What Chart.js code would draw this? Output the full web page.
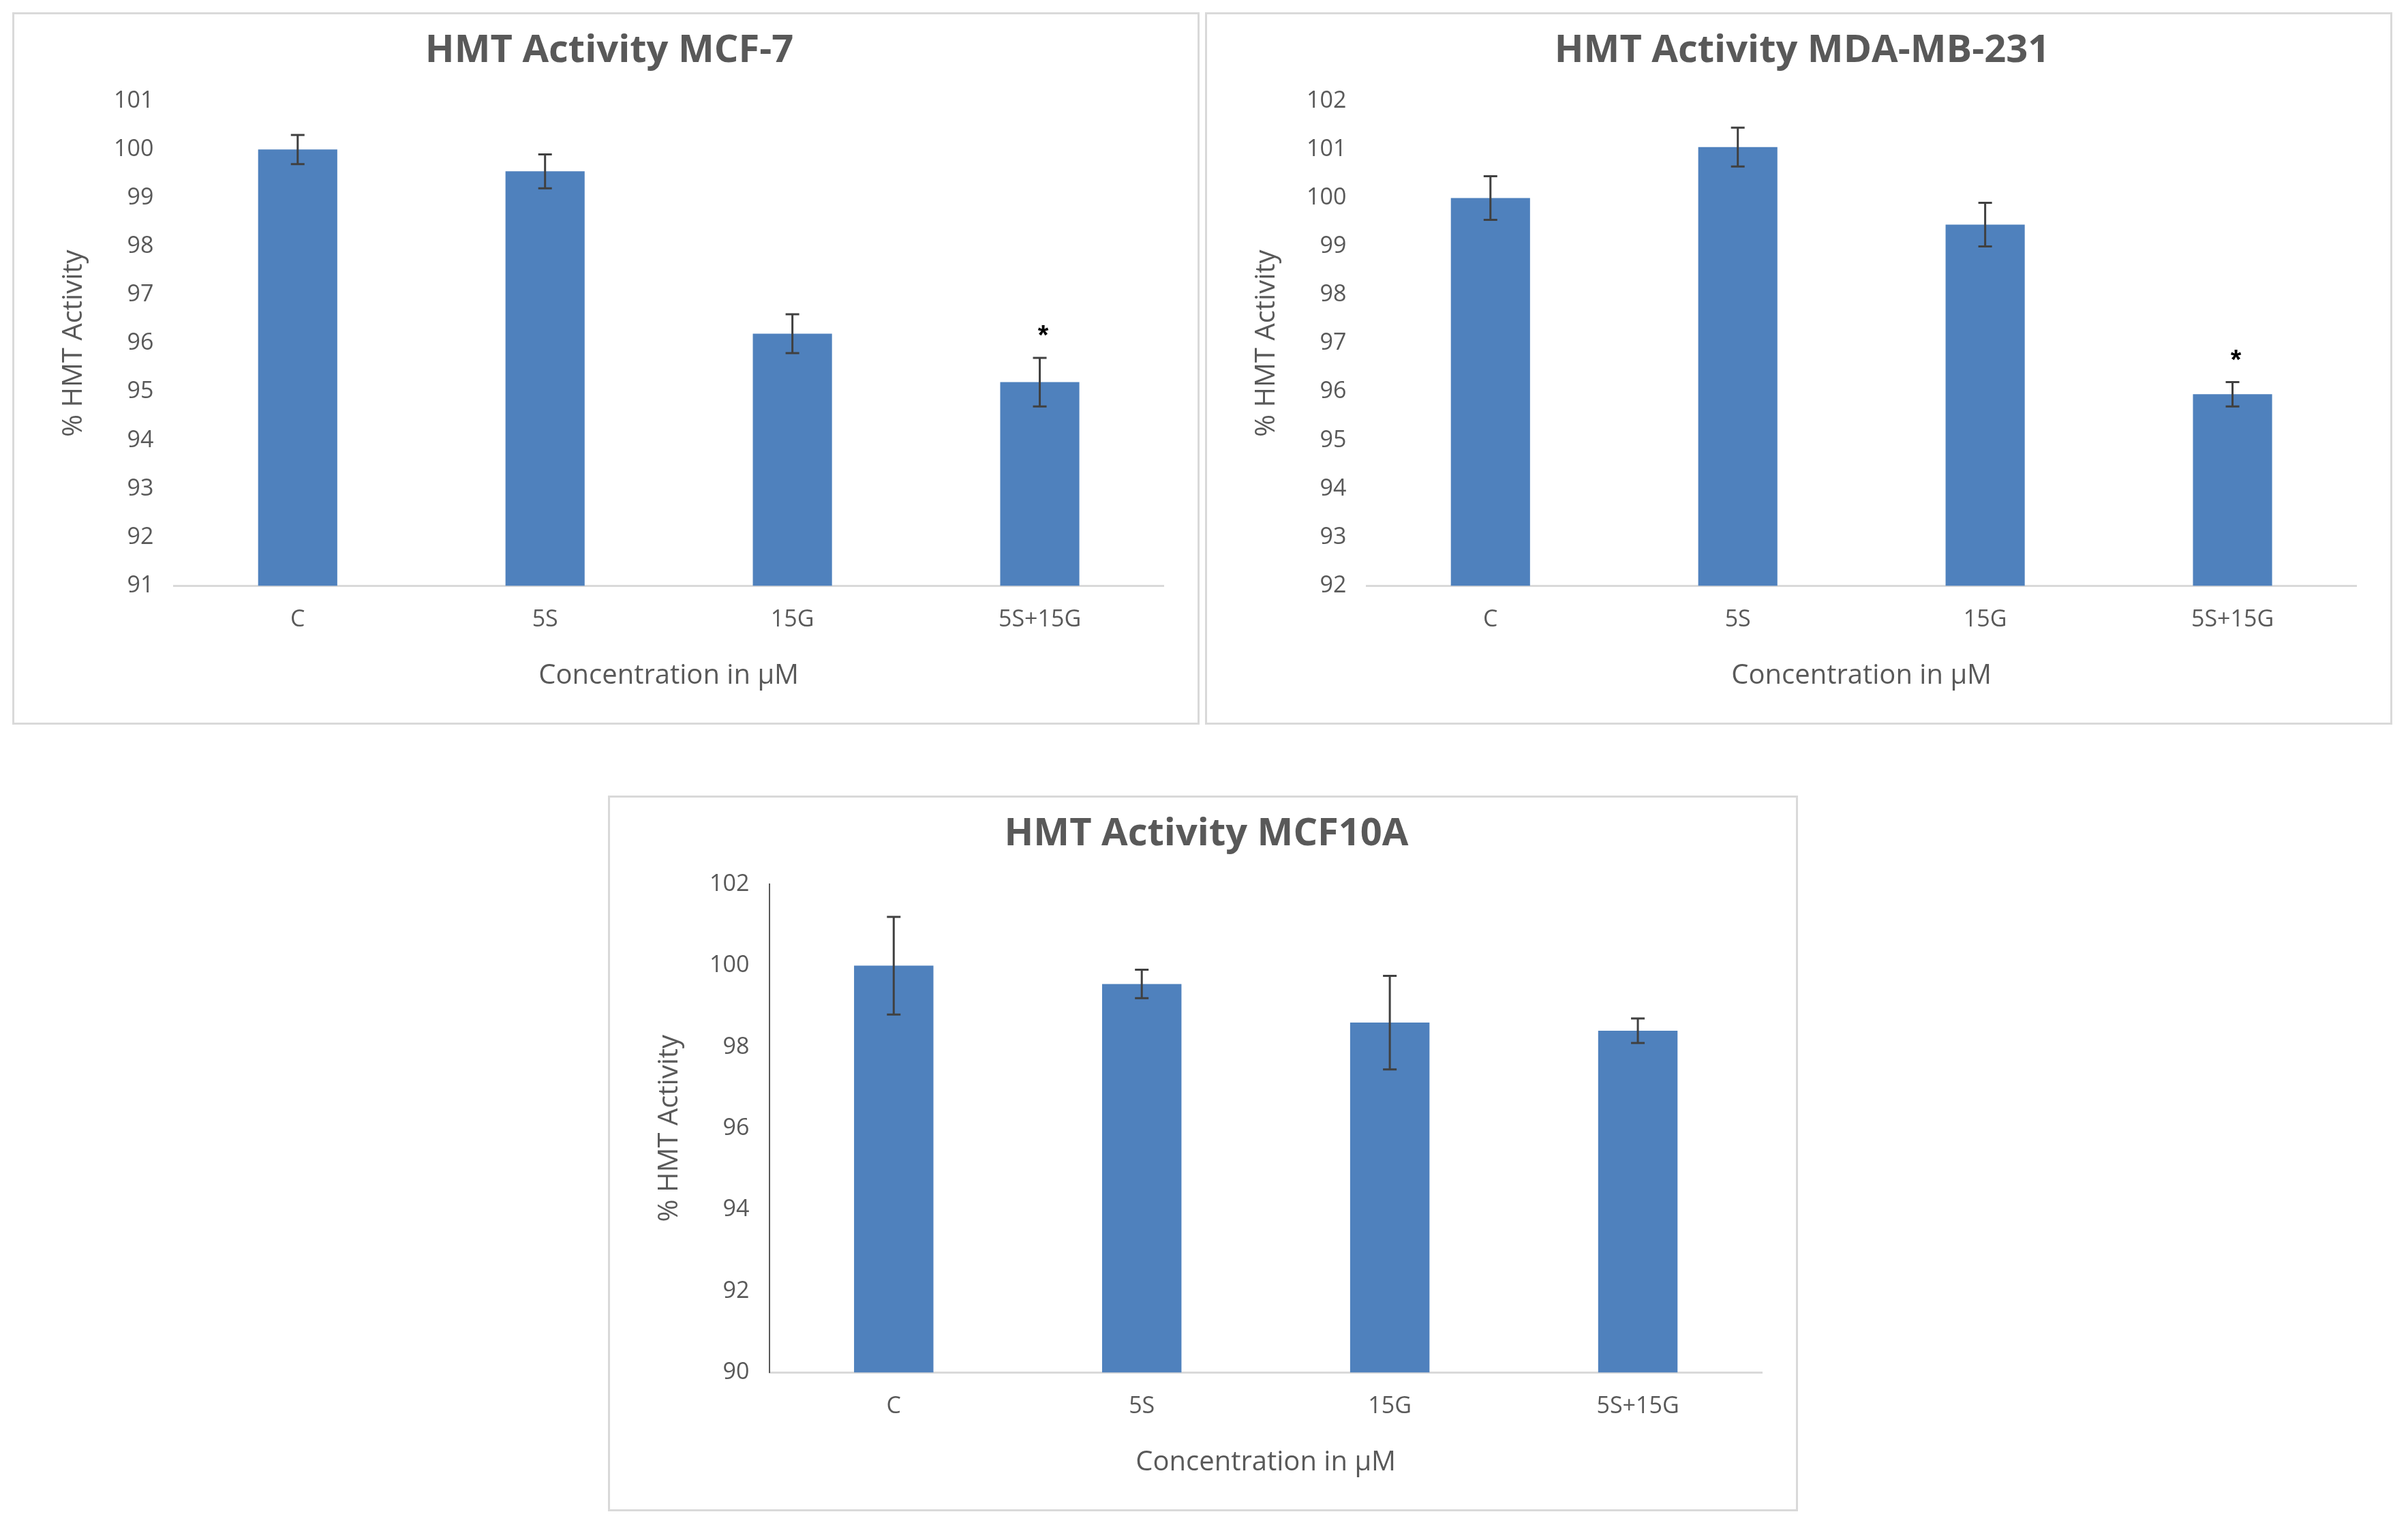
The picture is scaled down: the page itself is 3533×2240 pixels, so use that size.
<!DOCTYPE html>
<html>
<head>
<meta charset="utf-8">
<script src="https://cdn.jsdelivr.net/npm/chart.js@4"></script>
<style>
body { margin: 0; background: #fff; width: 3533px; height: 2240px; position: relative; }
.panel { position: absolute; border: 3px solid #d9d9d9; box-sizing: border-box; background: #fff; }
</style>
</head>
<body>
<div class="panel" style="left:18px;top:18px;width:1742px;height:1045px"><canvas id="c1"></canvas></div>
<div class="panel" style="left:1768px;top:18px;width:1742px;height:1045px"><canvas id="c2"></canvas></div>
<div class="panel" style="left:892px;top:1167px;width:1746px;height:1050px"><canvas id="c3"></canvas></div>
<script>
var categories = ['C', '5S', '15G', '5S+15G'];

var mcf7Values = [100, 99.55, 96.2, 95.2];
var mcf7Errors = [0.3, 0.35, 0.4, 0.5];
var mcf7Stars = ['', '', '', '*'];

var mdaValues = [100, 101.05, 99.45, 95.95];
var mdaErrors = [0.45, 0.4, 0.45, 0.25];
var mdaStars = ['', '', '', '*'];

var mcf10aValues = [100, 99.55, 98.6, 98.4];
var mcf10aErrors = [1.2, 0.35, 1.15, 0.3];
var mcf10aStars = ['', '', '', ''];

var errorBarPlugin = {
    id: 'errorBars',
    afterDatasetsDraw: function(chart, args, opts) {
        var ctx = chart.ctx;
        var meta = chart.getDatasetMeta(0);
        var y = chart.scales.y;
        ctx.save();
        ctx.strokeStyle = '#404040';
        ctx.lineWidth = 3;
        meta.data.forEach(function(bar, i) {
            var v = opts.values[i], e = opts.errors[i];
            var top = y.getPixelForValue(v + e), bot = y.getPixelForValue(v - e);
            ctx.beginPath();
            ctx.moveTo(bar.x, top); ctx.lineTo(bar.x, bot);
            ctx.moveTo(bar.x - 10, top); ctx.lineTo(bar.x + 10, top);
            ctx.moveTo(bar.x - 10, bot); ctx.lineTo(bar.x + 10, bot);
            ctx.stroke();
            if (opts.stars[i]) {
                ctx.fillStyle = '#000';
                ctx.font = 'bold 40px "Liberation Sans"';
                ctx.textAlign = 'center';
                ctx.fillText(opts.stars[i], bar.x + 5, top - 20);
            }
        });
        ctx.restore();
    }
};

function makeChart(id, title, values, errors, stars, min, max, step, yLine, pad) {
    new Chart(document.getElementById(id), {
        type: 'bar',
        data: {
            labels: categories,
            datasets: [{ data: values, backgroundColor: '#4f81bd', barPercentage: 0.32, categoryPercentage: 1 }]
        },
        plugins: [errorBarPlugin],
        options: {
            responsive: true,
            maintainAspectRatio: false,
            animation: false,
            layout: { padding: pad },
            plugins: {
                legend: { display: false },
                tooltip: { enabled: false },
                title: { display: true, text: title, color: '#595959',
                    font: { family: 'Open Sans', size: 56 }, padding: { top: 10, bottom: 40 } },
                errorBars: { values: values, errors: errors, stars: stars }
            },
            scales: {
                x: {
                    grid: { display: false, drawTicks: false },
                    border: { color: '#d9d9d9', width: 3 },
                    ticks: { color: '#595959', font: { family: 'Open Sans', size: 34 }, padding: 30 },
                    title: { display: true, text: 'Concentration in µM', color: '#595959',
                        font: { family: 'Open Sans', size: 40 }, padding: { top: 8 } }
                },
                y: {
                    min: min, max: max,
                    grid: { display: false, drawTicks: false },
                    border: { display: yLine, color: '#595959', width: 2 },
                    ticks: { stepSize: step, color: '#595959', font: { family: 'Open Sans', size: 34 }, padding: 30 },
                    title: { display: true, text: '% HMT Activity', color: '#595959',
                        font: { family: 'Open Sans', size: 40 } }
                }
            }
        }
    });
}

makeChart('c1', 'HMT Activity MCF-7', mcf7Values, mcf7Errors, mcf7Stars, 91, 101, 1, false, { left: 60, right: 50, top: 10, bottom: 40 });
makeChart('c2', 'HMT Activity MDA-MB-231', mdaValues, mdaErrors, mdaStars, 92, 102, 1, false, { left: 60, right: 50, top: 10, bottom: 40 });
makeChart('c3', 'HMT Activity MCF10A', mcf10aValues, mcf10aErrors, mcf10aStars, 90, 102, 2, true, { left: 60, right: 50, top: 10, bottom: 40 });
</script>
</body>
</html>
